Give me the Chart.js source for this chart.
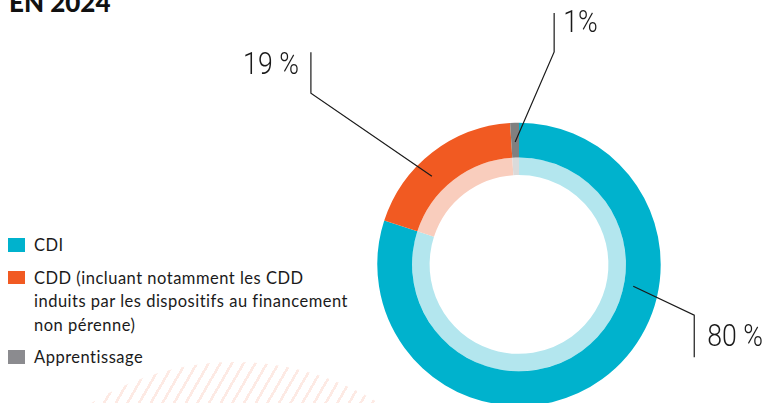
<!DOCTYPE html>
<html lang="fr">
<head>
<meta charset="utf-8">
<script src="https://cdn.jsdelivr.net/npm/chart.js@4.4.1/dist/chart.umd.min.js"></script>
<style>
  html, body { margin: 0; padding: 0; background: #fff; overflow: hidden; }
  body { width: 768px; height: 403px; position: relative; font-family: Lato, "Noto Sans", sans-serif; }
  #title { position: absolute; left: 9px; top: -11px; font-family: Lato, sans-serif; font-weight: 900; font-size: 26px; line-height: 26px; color: #111; }
  #hatch { position: absolute; left: -37px; top: 362px; width: 544px; height: 544px; border-radius: 50%;
           background: repeating-linear-gradient(120deg, rgba(246,150,120,0.2) 0 2.6px, transparent 2.6px 10.1px); }
  #legend { position: absolute; left: 8px; top: 234.4px; width: 360px; }
  .item { display: flex; align-items: flex-start; margin-bottom: 9px; font-size: 16.5px; letter-spacing: 0.5px; line-height: 23.5px; color: #1a1a1a; }
  .sw { width: 17px; height: 13.5px; flex: none; margin-top: 4px; margin-right: 9px; }
  #wrap { position: absolute; left: 0; top: 0; width: 768px; height: 420px; }
</style>
</head>
<body>
<div id="hatch"></div>
<div id="title">EN 2024</div>
<div id="legend"></div>
<div id="wrap"><canvas id="c" width="768" height="420"></canvas></div>
<script>
// ---- data ----
const categories = [
  'CDI',
  ['CDD (incluant notamment les CDD', 'induits par les dispositifs au financement', 'non pérenne)'],
  'Apprentissage'
];
const shares = [80, 19, 1];
const shareLabels = ['80 %', '19 %', '1%'];

const darkColors = ['#00b2cd', '#f15a22', '#808080'];
const lightColors = ['#b3e6ee', '#f9cdbd', '#dadada'];
const legendColors = ['#00b2cd', '#f15a22', '#8b8b8f'];

// leader line layout: where on the slice it starts (fraction of arc, fraction of ring depth),
// elbow offset from that point, vertical run, and label placement
const leaders = [
  { t: 0.35, r: 0.27, dx: 61, dy: 29, run: 42, side: 'right', lx: 13, ly: 23 },
  { t: 0.40, r: 0.49, dx: -121, dy: -83, run: -41, side: 'left', lx: -12, ly: -27 },
  { t: 0.5, r: 0.45, dx: 39, dy: -90, run: -39, side: 'right', lx: 9, ly: -28 }
];

// html legend
const legendEl = document.getElementById('legend');
categories.forEach((name, i) => {
  const row = document.createElement('div');
  row.className = 'item';
  const sw = document.createElement('span');
  sw.className = 'sw';
  sw.style.background = legendColors[i];
  const tx = document.createElement('span');
  [].concat(name).forEach((line, k) => {
    if (k > 0) tx.appendChild(document.createElement('br'));
    tx.appendChild(document.createTextNode(line));
  });
  row.appendChild(sw);
  row.appendChild(tx);
  legendEl.appendChild(row);
});

const leaderPlugin = {
  id: 'leaders',
  afterDraw(chart) {
    const ctx = chart.ctx;
    const meta = chart.getDatasetMeta(0);
    meta.data.forEach((arc, i) => {
      const L = leaders[i];
      const a = arc.startAngle + (arc.endAngle - arc.startAngle) * L.t;
      const rr = arc.innerRadius + (arc.outerRadius - arc.innerRadius) * L.r;
      const x0 = arc.x + Math.cos(a) * rr;
      const y0 = arc.y + Math.sin(a) * rr;
      const x1 = x0 + L.dx, y1 = y0 + L.dy;
      ctx.save();
      ctx.strokeStyle = '#1a1a1a';
      ctx.lineWidth = 1.2;
      ctx.beginPath();
      ctx.moveTo(x0, y0);
      ctx.lineTo(x1, y1);
      ctx.lineTo(x1, y1 + L.run);
      ctx.stroke();
      ctx.fillStyle = '#1a1a1a';
      ctx.font = '300 31px Roboto, "Liberation Sans Narrow", sans-serif';
      ctx.textBaseline = 'middle';
      ctx.translate(x1 + L.lx, y1 + L.ly);
      ctx.scale(0.86, 1);
      ctx.textAlign = L.side === 'right' ? 'left' : 'right';
      ctx.fillText(shareLabels[i], 0, 0);
      ctx.restore();
    });
  }
};

new Chart(document.getElementById('c'), {
  type: 'doughnut',
  data: {
    labels: categories,
    datasets: [
      { data: shares, backgroundColor: darkColors, borderWidth: 0, hoverOffset: 0, weight: 35 },
      { data: shares, backgroundColor: lightColors, borderWidth: 0, hoverOffset: 0, weight: 17.6 }
    ]
  },
  options: {
    responsive: false,
    animation: false,
    cutout: '63.1%',
    layout: { padding: { left: 377.3, right: 107.3, top: 122.7, bottom: 13.9 } },
    plugins: { legend: { display: false }, tooltip: { enabled: false } }
  },
  plugins: [leaderPlugin]
});
</script>
</body>
</html>
